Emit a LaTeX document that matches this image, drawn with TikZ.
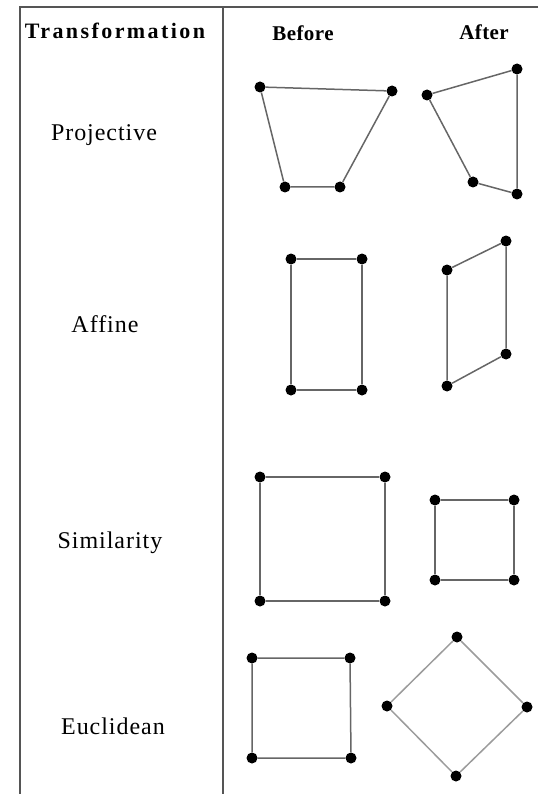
\documentclass[tikz,border=0pt]{standalone}
\usepackage{fontspec}
\setmainfont{Liberation Serif}
\usetikzlibrary{positioning}
\newfontfamily\headfont[LetterSpace=2]{Liberation Serif}
\newfontfamily\rowfont[LetterSpace=4]{Liberation Serif}
\definecolor{RuleGray}{HTML}{555555}
\definecolor{EdgeGray}{HTML}{666666}
\tikzset{
  corner/.style={circle,fill=black,inner sep=0pt,minimum size=11pt},
  edge/.style={draw=EdgeGray,line width=1.5pt},
  rule/.style={draw=RuleGray,line width=1.6pt},
  headlabel/.style={font=\headfont\bfseries\fontsize{21}{23}\selectfont,inner sep=0pt},
  rowlabel/.style={font=\rowfont\fontsize{24}{26}\selectfont,inner sep=0pt}
}
\begin{document}
\begin{tikzpicture}[x=1pt,y=-1pt]
\useasboundingbox (0,0) rectangle (538,794);
% table rules
\coordinate (topL) at (20,7);
\coordinate (topR) at (538,7);
\coordinate (midT) at (223,7);
\draw[rule] (topR) -- (topL) -- (20,794);
\draw[rule] (midT) -- (223,794);
% headers
\node[headlabel,font=\headfont\bfseries\fontsize{22}{24}\selectfont\addfontfeature{LetterSpace=11}] (hTrans) at (115,31) {Transformation};
\node[headlabel] (hBefore) at (303,33) {Before};
\node[headlabel] (hAfter) at (484,32) {After};
% row labels
\node[rowlabel] (lProj) at (104,135) {Projective};
\node[rowlabel] (lAff) at (105,324) {Affine};
\node[rowlabel] (lSim) at (110,543) {Similarity};
\node[rowlabel] (lEuc) at (113,726) {Euclidean};
% projective
\node[corner] (pb1) at (260,87) {};
\node[corner] (pb2) at (392,91) {};
\node[corner] (pb3) at (340,187) {};
\node[corner] (pb4) at (285,187) {};
\draw[edge] (pb1) -- (pb2) -- (pb3) -- (pb4) -- (pb1);
\node[corner] (pa1) at (427,95) {};
\node[corner] (pa2) at (517,69) {};
\node[corner] (pa3) at (517,194) {};
\node[corner] (pa4) at (473,182) {};
\draw[edge] (pa1) -- (pa2) -- (pa3) -- (pa4) -- (pa1);
% affine
\node[corner] (ab1) at (291,259) {};
\node[corner] (ab2) at (362,259) {};
\node[corner] (ab3) at (362,390) {};
\node[corner] (ab4) at (291,390) {};
\draw[edge] (ab1) -- (ab2) -- (ab3) -- (ab4) -- (ab1);
\node[corner] (aa1) at (447,270) {};
\node[corner] (aa2) at (506,241) {};
\node[corner] (aa3) at (506,354) {};
\node[corner] (aa4) at (447,386) {};
\draw[edge] (aa1) -- (aa2) -- (aa3) -- (aa4) -- (aa1);
% similarity
\node[corner] (sb1) at (260,477) {};
\node[corner] (sb2) at (385,477) {};
\node[corner] (sb3) at (385,601) {};
\node[corner] (sb4) at (260,601) {};
\draw[edge] (sb1) -- (sb2) -- (sb3) -- (sb4) -- (sb1);
\node[corner] (sa1) at (435,500) {};
\node[corner] (sa2) at (514,500) {};
\node[corner] (sa3) at (514,580) {};
\node[corner] (sa4) at (435,580) {};
\draw[edge] (sa1) -- (sa2) -- (sa3) -- (sa4) -- (sa1);
% euclidean
\node[corner] (eb1) at (252,658) {};
\node[corner] (eb2) at (350,658) {};
\node[corner] (eb3) at (351,758) {};
\node[corner] (eb4) at (252,758) {};
\draw[edge] (eb1) -- (eb2) -- (eb3) -- (eb4) -- (eb1);
\node[corner] (ea1) at (457,637) {};
\node[corner] (ea2) at (527,707) {};
\node[corner] (ea3) at (456,776) {};
\node[corner] (ea4) at (387,706) {};
\draw[edge,draw=EdgeGray!65] (ea1) -- (ea2) -- (ea3) -- (ea4) -- (ea1);
\end{tikzpicture}
\end{document}
